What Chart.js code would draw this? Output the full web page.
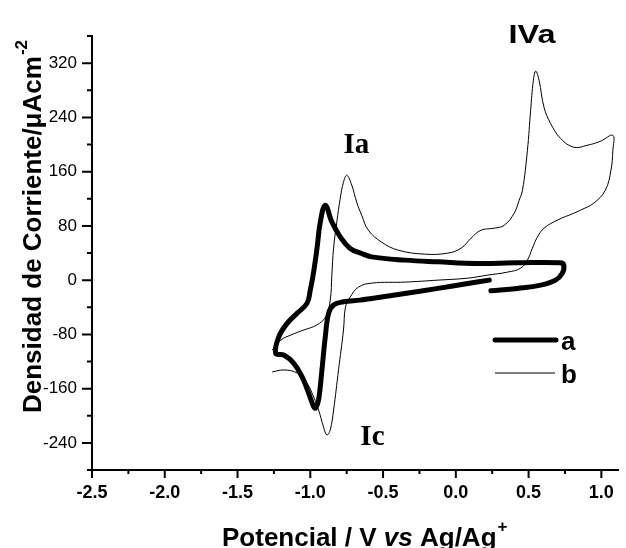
<!DOCTYPE html>
<html>
<head>
<meta charset="utf-8">
<script src="https://cdn.jsdelivr.net/npm/chart.js@4/dist/chart.umd.min.js"></script>
<style>
  body { margin: 0; background: #fff; }
  canvas { display: block; }
</style>
</head>
<body>
<canvas id="myChart" width="626" height="548"></canvas>
<script>
// curve a (thick)
const potA = [0.241, 0.423, 0.583, 0.685, 0.731, 0.742, 0.717, 0.423, 0.150, -0.123, -0.350, -0.579, -0.647, -0.726,
  -0.794, -0.852, -0.897, -0.931, -0.954, -0.977, -1.000, -1.023, -1.091, -1.159, -1.216, -1.238, -1.182, -1.113,
  -1.057, -1.011, -0.977, -0.963, -0.943, -0.920, -0.897, -0.874, -0.840, -0.772, -0.658, -0.579, -0.350, -0.123,
  0.082, 0.230];
const currA = [-15.8, -12.2, -7.4, 0, 9.9, 22.1, 25.5, 25.5, 24.6, 27.0, 29.5, 34.3, 39.3, 46.7,
  63.8, 85.9, 110.5, 85.9, 46.7, 12.2, -14.7, -34.3, -49.0, -63.8, -83.5, -108.0, -110.5, -122.7,
  -142.4, -166.9, -186.6, -188.5, -176.7, -132.5, -83.5, -49.0, -36.8, -32.0, -29.5, -27.0, -19.6, -12.2,
  -4.9, 0];

// curve b (thin)
const potB = [-1.262, -1.202, -1.134, -1.045, -0.957, -0.895, -0.863, -0.852, -0.840, -0.818, -0.794, -0.772, -0.749,
  -0.715, -0.681, -0.647, -0.601, -0.510, -0.396, -0.214, -0.055, 0.036, 0.105, 0.173, 0.264, 0.333, 0.401, 0.435,
  0.458, 0.492, 0.514, 0.533, 0.549, 0.572, 0.606, 0.651, 0.719, 0.811, 0.902, 0.993, 1.079, 1.079, 1.066, 1.027,
  0.947, 0.856, 0.811, 0.697, 0.606, 0.560, 0.526, 0.492, 0.446, 0.355, 0.219, 0.082, -0.123, -0.348, -0.578,
  -0.669, -0.726, -0.758, -0.772, -0.806, -0.840, -0.863, -0.886, -0.909, -0.943, -0.977, -1.023, -1.091, -1.182,
  -1.262];
const currB = [-103.1, -88.4, -81.0, -73.6, -66.3, -54.5, -29.5, 7.4, 47.1, 85.4, 120.8, 144.3, 154.6,
  139.9, 114.9, 95.7, 73.6, 56.0, 44.2, 38.3, 39.8, 47.1, 61.9, 73.6, 76.6, 81.0, 98.7, 117.8,
  132.5, 191.5, 250.4, 294.6, 308.2, 294.6, 254.8, 231.2, 209.1, 195.9, 198.8, 204.7, 213.5, 191.5, 162.0, 132.5,
  113.4, 103.1, 98.7, 88.4, 76.6, 63.3, 47.1, 29.5, 17.7, 11.8, 7.4, 2.9, 0, -2.9, -4.4,
  -10.3, -25.0, -39.8, -73.6, -132.5, -191.5, -220.9, -228.3, -216.5, -191.5, -172.3, -151.7, -137.0, -132.5,
  -135.5];

const xMajor = [-2.5, -2.0, -1.5, -1.0, -0.5, 0.0, 0.5, 1.0];
const xLabels = ['-2.5', '-2.0', '-1.5', '-1.0', '-0.5', '0.0', '0.5', '1.0'];
const xMinor = [-2.25, -1.75, -1.25, -0.75, -0.25, 0.25, 0.75];
const yMajor = [-240, -160, -80, 0, 80, 160, 240, 320];
const yLabels = ['-240', '-160', '-80', '0', '80', '160', '240', '320'];
const yMinor = [-280, -200, -120, -40, 40, 120, 200, 280, 360];

const seriesNames = ['a', 'b'];
const peakLabels = [
  { text: 'IVa', v: 0.362, i: 350 },
  { text: 'Ia', v: -0.772, i: 188 },
  { text: 'Ic', v: -0.656, i: -243 }
];

const SANS = '"Liberation Sans", Arial, sans-serif';
const SERIF = '"Liberation Serif", "Times New Roman", serif';

const toPts = (xs, ys) => xs.map((x, k) => ({ x: x, y: ys[k] }));

const extras = {
  id: 'extras',
  afterDraw(chart) {
    const ctx = chart.ctx;
    const sx = chart.scales.x, sy = chart.scales.y, area = chart.chartArea;
    ctx.save();
    ctx.strokeStyle = '#000';
    ctx.fillStyle = '#000';
    ctx.lineWidth = 2;
    ctx.beginPath();
    xMajor.forEach(v => { const p = sx.getPixelForValue(v); ctx.moveTo(p, area.bottom); ctx.lineTo(p, area.bottom + 8); });
    xMinor.forEach(v => { const p = sx.getPixelForValue(v); ctx.moveTo(p, area.bottom); ctx.lineTo(p, area.bottom + 4); });
    yMajor.forEach(v => { const p = sy.getPixelForValue(v); ctx.moveTo(area.left, p); ctx.lineTo(area.left - 10, p); });
    yMinor.forEach(v => { const p = sy.getPixelForValue(v); ctx.moveTo(area.left, p); ctx.lineTo(area.left - 5, p); });
    ctx.stroke();

    // peak labels
    ctx.textAlign = 'left';
    ctx.textBaseline = 'alphabetic';
    peakLabels.forEach(l => {
      const px = sx.getPixelForValue(l.v), py = sy.getPixelForValue(l.i);
      if (l.text === 'IVa') {
        ctx.save();
        ctx.translate(px, py);
        ctx.scale(1.3, 1);
        ctx.font = 'bold 25px ' + SANS;
        ctx.fillText(l.text, 0, 0);
        ctx.restore();
      } else {
        ctx.font = 'bold 29px ' + SERIF;
        ctx.fillText(l.text, px, py);
      }
    });

    // legend
    ctx.lineCap = 'round';
    ctx.lineWidth = 5;
    ctx.beginPath(); ctx.moveTo(495, 340); ctx.lineTo(556, 340); ctx.stroke();
    ctx.lineCap = 'butt';
    ctx.lineWidth = 1;
    ctx.beginPath(); ctx.moveTo(495, 373); ctx.lineTo(555, 373); ctx.stroke();
    ctx.font = 'bold 26px ' + SANS;
    ctx.fillText(seriesNames[0], 561, 350);
    ctx.fillText(seriesNames[1], 561, 383);

    // y title
    ctx.save();
    ctx.translate(41, 413);
    ctx.rotate(-Math.PI / 2);
    ctx.font = 'bold 26px ' + SANS;
    const yt = 'Densidad de Corriente/\u03BCAcm';
    ctx.fillText(yt, 0, 0);
    const w = ctx.measureText(yt).width;
    ctx.font = 'bold 17px ' + SANS;
    ctx.fillText('-2', w + 1, -14);
    ctx.restore();

    // x title
    let tx = 222;
    const by = 546;
    const parts = [
      ['bold 26px ' + SANS, 'Potencial / V '],
      ['italic bold 26px ' + SANS, 'vs'],
      ['bold 26px ' + SANS, ' Ag/Ag']
    ];
    parts.forEach(p => {
      ctx.font = p[0];
      ctx.fillText(p[1], tx, by);
      tx += ctx.measureText(p[1]).width;
    });
    ctx.font = 'bold 17px ' + SANS;
    ctx.fillText('+', tx + 1, by - 14);
    ctx.restore();
  }
};

new Chart(document.getElementById('myChart'), {
  type: 'scatter',
  data: {
    datasets: [{
      label: seriesNames[0],
      data: toPts(potA, currA),
      showLine: true,
      borderColor: '#000',
      backgroundColor: '#000',
      borderWidth: 5,
      borderCapStyle: 'round',
      borderJoinStyle: 'round',
      pointRadius: 0,
      tension: 0.4
    }, {
      label: seriesNames[1],
      data: toPts(potB, currB),
      showLine: true,
      borderColor: '#000',
      backgroundColor: '#000',
      borderWidth: 1,
      pointRadius: 0,
      tension: 0.4
    }]
  },
  options: {
    responsive: false,
    animation: false,
    devicePixelRatio: 1,
    layout: { padding: { top: 36, right: 4, left: 0, bottom: 0 } },
    plugins: {
      legend: { display: false },
      tooltip: { enabled: false }
    },
    scales: {
      x: {
        type: 'linear',
        min: -2.5,
        max: 1.12,
        afterBuildTicks: s => { s.ticks = xMajor.map(v => ({ value: v })); },
        afterFit: s => { s.height = 78; },
        grid: { display: false, drawTicks: false },
        border: { display: true, color: '#000', width: 2 },
        ticks: {
          padding: 12,
          color: '#000',
          font: { family: SANS, size: 18, weight: 'bold' },
          callback: (v, k) => xLabels[k]
        }
      },
      y: {
        type: 'linear',
        min: -280,
        max: 360,
        afterBuildTicks: s => { s.ticks = yMajor.map(v => ({ value: v })); },
        afterFit: s => { s.width = 92; },
        grid: { display: false, drawTicks: false },
        border: { display: true, color: '#000', width: 2 },
        ticks: {
          padding: 15,
          color: '#000',
          font: { family: SANS, size: 17 },
          callback: (v, k) => yLabels[k]
        }
      }
    }
  },
  plugins: [extras]
});
</script>
</body>
</html>
